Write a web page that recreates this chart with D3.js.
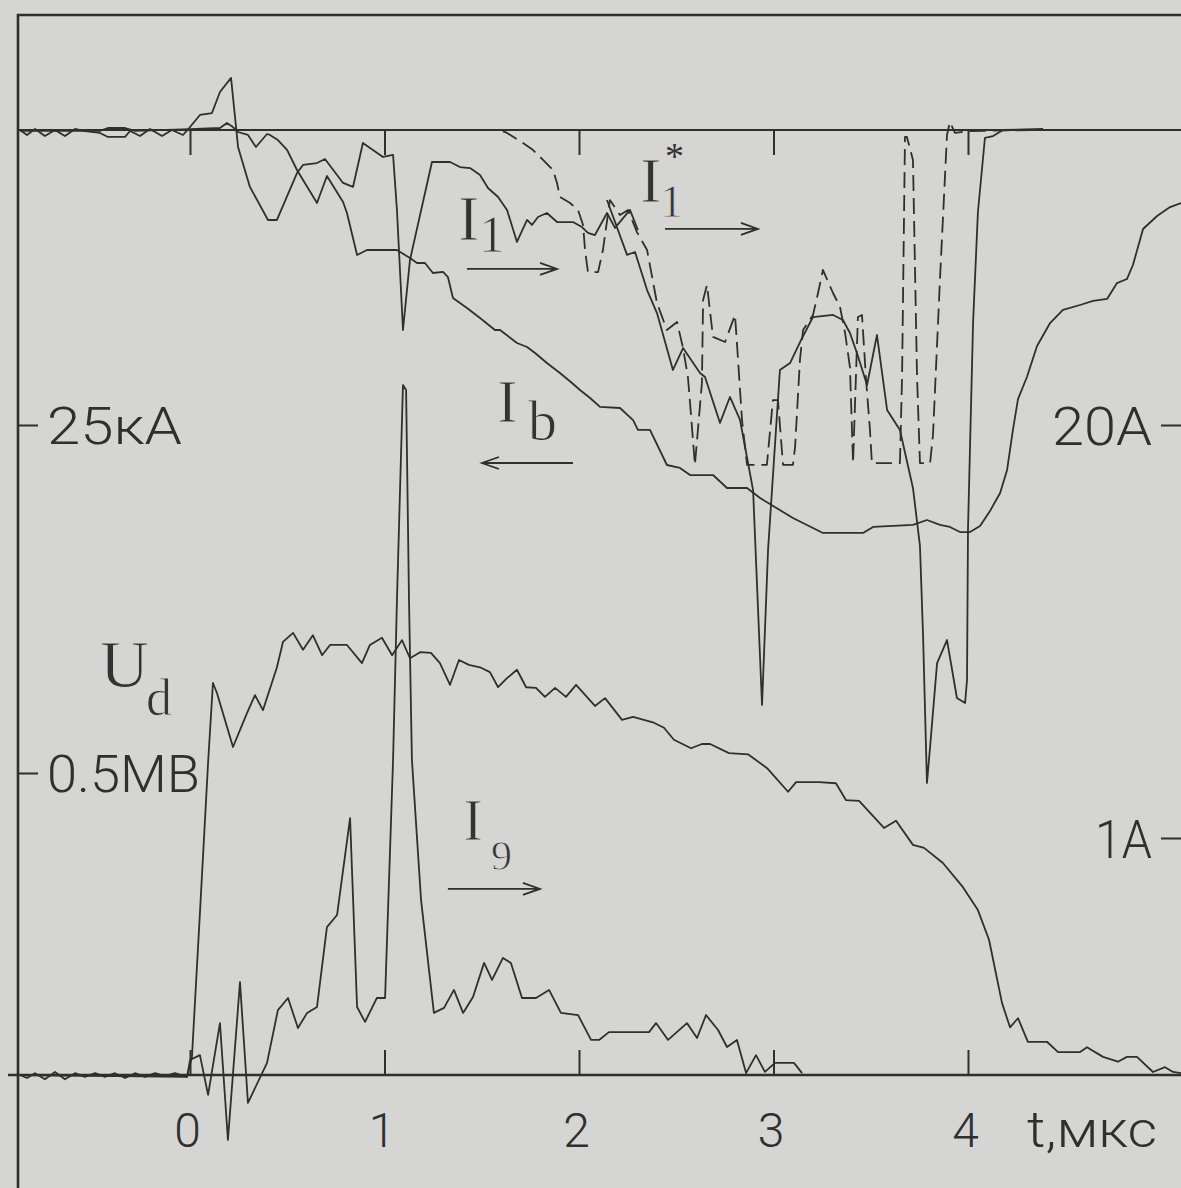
<!DOCTYPE html>
<html><head><meta charset="utf-8">
<script src="https://cdn.jsdelivr.net/npm/d3@7"></script>
<style>html,body{margin:0;padding:0;background:#d5d5d3;}svg{display:block}</style>
</head><body><svg id="c" width="1181" height="1188"></svg>
<script>
// ---------- data (t in мкс) ----------
const timeTicks = [0, 1, 2, 3, 4];
const timeTickLabels = ["0", "1", "2", "3", "4"];
const timeTitle = "t,мкс";
const leftTicksIb = [25], leftTickLabelIb = "25кА";
const leftTicksUd = [0.5], leftTickLabelUd = "0.5МВ";
const rightTicksI1 = [20], rightTickLabelI1 = "20А";
const rightTicksI9 = [1], rightTickLabelI9 = "1А";

// Ib, kA (left upper scale)
const ibCurve = [[-0.874,0.08],[-0.463,0.08],[-0.422,-0.17],[-0.334,-0.17],[-0.283,0.08],[0,-0.08],[0.154,-0.17],[0.190,-0.59],[0.221,-0.25],[0.247,0.17],[0.298,0.42],[0.339,1.44],[0.396,0.34],[0.411,0.42],[0.452,0.85],[0.499,1.69],[0.550,3.39],[0.653,6.19],[0.704,3.90],[0.787,6.10],[0.807,7.03],[0.859,10.59],[0.910,10.17],[1.064,10.17],[1.131,10.85],[1.167,11.27],[1.208,11.27],[1.249,12.12],[1.301,12.03],[1.326,12.46],[1.352,14.24],[1.424,15.08],[1.491,15.93],[1.568,16.95],[1.594,16.95],[1.681,18.05],[1.733,18.39],[1.774,18.90],[1.835,19.75],[1.902,20.59],[1.964,21.44],[2.005,22.03],[2.057,22.71],[2.108,23.47],[2.211,23.56],[2.278,24.58],[2.303,25.42],[2.365,25.42],[2.452,28.39],[2.519,28.64],[2.571,29.24],[2.689,29.24],[2.761,30.34],[2.864,30.34],[2.931,31.19],[3.049,32.37],[3.100,32.88],[3.203,33.73],[3.254,34.15],[3.460,34.15],[3.512,33.64],[3.717,33.47],[3.789,33.05],[3.856,33.47],[3.907,33.64],[3.959,34.07],[4.010,34.07],[4.062,33.56],[4.113,32.29],[4.165,30.76],[4.201,28.81],[4.231,25.42],[4.257,22.80],[4.303,20.93],[4.355,18.31],[4.422,16.36],[4.488,15.25],[4.576,14.83],[4.643,14.49],[4.715,14.32],[4.766,12.97],[4.817,12.63],[4.848,11.44],[4.900,8.39],[4.972,7.29],[5.039,6.53],[5.095,6.19]];

// I1, A (right upper scale); null = break in the trace
const i1Curve = [[-0.874,0],[-0.838,0.34],[-0.797,-0.07],[-0.746,0.41],[-0.694,0],[-0.643,0.41],[-0.591,-0.07],[-0.540,0.07],[-0.463,0.2],[-0.422,0.47],[-0.334,0.47],[-0.308,0.07],[-0.257,0.41],[-0.206,-0.07],[-0.144,0.41],[-0.093,0],[-0.036,0.34],[0,-0.2],[0.051,-1.02],[0.113,-1.15],[0.154,-2.58],[0.211,-3.53],[0.247,1.15],[0.308,3.86],[0.401,6.10],[0.447,6.10],[0.550,2.92],[0.581,2.37],[0.653,2.24],[0.694,1.97],[0.787,3.59],[0.838,3.86],[0.889,0.88],[0.992,1.83],[1.044,1.69],[1.064,5.42],[1.095,13.56],[1.131,8.81],[1.244,2.17],[1.337,2.17],[1.388,2.51],[1.440,2.58],[1.491,3.05],[1.532,3.93],[1.584,4.54],[1.630,5.42],[1.681,7.59],[1.733,6.10],[1.758,6.44],[1.789,5.90],[1.835,5.63],[1.887,6.24],[1.969,6.24],[2.015,6.58],[2.046,6.98],[2.082,7.12],[2.144,5.63],[2.185,6.64],[2.262,5.42],[2.303,6.78],[2.320,null],
 [2.144,4.75],[2.247,8.47],[2.288,8.27],[2.350,10.85],[2.401,12.41],[2.483,16.27],[2.535,14.78],[2.622,16.47],[2.648,16.75],[2.725,19.86],[2.776,18.10],[2.828,19.66],[2.895,24.41],[2.941,38.98],[2.972,28.47],[3.033,16.27],[3.085,15.80],[3.147,14.10],[3.203,12.68],[3.306,12.54],[3.357,12.88],[3.393,13.76],[3.429,15.12],[3.481,17.29],[3.532,13.90],[3.584,18.98],[3.650,20.34],[3.717,24.27],[3.753,28.20],[3.769,34.31],[3.789,44.27],[3.805,41.83],[3.841,36.14],[3.892,34.58],[3.943,38.51],[3.985,38.85],[3.995,37.29],[4.000,27.05],[4.026,13.08],[4.051,5.56],[4.087,0.54],[4.129,0.41],[4.180,0],[4.386,-0.07]];

// I1*, A (right upper scale), dashed
const i1StarCurve = [[-0.874,0],[1.594,0],[1.630,0.20],[1.712,0.88],[1.764,1.36],[1.815,2.03],[1.866,2.71],[1.887,3.59],[1.902,4.54],[1.954,4.95],[1.995,5.42],[2.021,6.44],[2.031,8.14],[2.046,9.63],[2.098,9.63],[2.123,8.14],[2.159,4.75],[2.211,5.76],[2.252,5.42],[2.298,6.92],[2.350,8.14],[2.401,11.73],[2.452,13.56],[2.504,13.02],[2.535,14.78],[2.560,16.75],[2.571,18.51],[2.596,22.71],[2.632,17.15],[2.638,11.53],[2.658,10.51],[2.689,14.03],[2.751,14.37],[2.802,12.54],[2.812,14.44],[2.838,19.66],[2.864,22.71],[2.966,22.71],[2.997,18.31],[3.023,18.31],[3.049,22.71],[3.100,22.71],[3.111,21.49],[3.136,15.59],[3.152,13.56],[3.203,12.54],[3.229,11.05],[3.254,9.49],[3.306,11.05],[3.342,12.00],[3.368,13.76],[3.393,16.07],[3.409,22.58],[3.434,12.68],[3.455,12.54],[3.476,16.95],[3.496,20.34],[3.506,22.58],[3.650,22.58],[3.661,16.75],[3.676,0.47],[3.686,0.47],[3.717,2.03],[3.738,16.75],[3.753,22.58],[3.805,22.58],[3.820,20.68],[3.856,10.10],[3.892,0.34],[3.907,-0.54],[3.933,0.20],[4.000,0.07],[4.370,0]];

// Ud, MV (left lower scale)
const udCurve = [[-0.874,0],[-0.838,-0.005],[-0.797,0.003],[-0.746,-0.007],[-0.694,0.005],[-0.643,-0.007],[-0.591,0.003],[-0.540,-0.003],[-0.488,0.003],[-0.437,-0.003],[-0.386,0.003],[-0.334,-0.005],[-0.283,0.003],[-0.231,-0.003],[-0.180,0.003],[-0.129,-0.002],[-0.077,0.003],[-0.015,-0.003],[0.010,0.030],[0.051,0.268],[0.093,0.517],[0.118,0.649],[0.139,0.632],[0.221,0.543],[0.293,0.599],[0.334,0.629],[0.375,0.604],[0.447,0.675],[0.478,0.717],[0.530,0.732],[0.581,0.704],[0.632,0.728],[0.679,0.695],[0.720,0.712],[0.807,0.712],[0.884,0.682],[0.925,0.712],[0.987,0.724],[1.039,0.695],[1.090,0.720],[1.131,0.690],[1.183,0.700],[1.239,0.699],[1.285,0.682],[1.337,0.646],[1.383,0.687],[1.434,0.679],[1.491,0.675],[1.542,0.667],[1.584,0.642],[1.630,0.657],[1.681,0.671],[1.728,0.642],[1.779,0.641],[1.825,0.626],[1.877,0.641],[1.933,0.626],[1.985,0.646],[2.082,0.611],[2.134,0.624],[2.221,0.588],[2.278,0.593],[2.380,0.584],[2.437,0.575],[2.488,0.555],[2.576,0.541],[2.632,0.548],[2.674,0.548],[2.771,0.533],[2.869,0.531],[2.967,0.508],[3.075,0.469],[3.116,0.485],[3.234,0.485],[3.321,0.483],[3.373,0.455],[3.440,0.454],[3.568,0.409],[3.630,0.421],[3.717,0.381],[3.774,0.376],[3.871,0.351],[3.974,0.311],[4.051,0.273],[4.108,0.224],[4.175,0.119],[4.216,0.079],[4.257,0.094],[4.308,0.055],[4.406,0.055],[4.463,0.038],[4.576,0.038],[4.612,0.046],[4.694,0.030],[4.771,0.022],[4.817,0.030],[4.869,0.030],[4.951,0.005],[5.013,0.013],[5.054,0.005],[5.095,0.003]];

// I9, A (right lower scale)
const i9Curve = [[-0.874,0],[-0.015,-0.008],[0,0.063],[0.051,0.084],[0.093,-0.084],[0.154,0.219],[0.195,-0.274],[0.257,0.392],[0.298,-0.118],[0.396,0.051],[0.452,0.274],[0.504,0.325],[0.555,0.198],[0.602,0.262],[0.653,0.287],[0.704,0.624],[0.756,0.675],[0.823,1.084],[0.859,0.287],[0.900,0.224],[0.961,0.325],[1.003,0.325],[1.044,1.329],[1.064,2.004],[1.095,2.911],[1.111,2.890],[1.126,2.004],[1.141,1.329],[1.188,0.738],[1.254,0.262],[1.306,0.283],[1.357,0.359],[1.404,0.262],[1.455,0.329],[1.512,0.473],[1.553,0.401],[1.609,0.494],[1.650,0.473],[1.707,0.325],[1.779,0.325],[1.846,0.359],[1.907,0.262],[1.995,0.253],[2.062,0.148],[2.103,0.148],[2.154,0.181],[2.360,0.181],[2.396,0.219],[2.458,0.148],[2.555,0.219],[2.607,0.156],[2.653,0.253],[2.715,0.190],[2.761,0.118],[2.812,0.148],[2.859,0.008],[2.910,0.084],[2.956,0.013],[3.008,0.051],[3.105,0.051],[3.147,0.008]];

// ---------- layout ----------
const W = 1181, H = 1188;
const frameLeft = 18, frameTop = 15;
const ink = "#2f2f2f";
const paper = "#d5d5d3";
const svg = d3.select("#c");
svg.append("rect").attr("width", W).attr("height", H).attr("fill", paper);

const x = d3.scaleLinear().domain([0, 4]).range([190, 968]);
const yIb = d3.scaleLinear().domain([0, 25]).range([130, 425]);
const yI1 = d3.scaleLinear().domain([0, 20]).range([130, 425]);
const yUd = d3.scaleLinear().domain([0, 0.5]).range([1075, 773]);
const yI9 = d3.scaleLinear().domain([0, 1]).range([1075, 838]);

const axisFont = "Roboto, 'Open Sans', sans-serif";
const serif = "'Liberation Serif', 'DejaVu Serif', serif";

// frame
svg.append("path").attr("d", `M${frameLeft},${H} L${frameLeft},${frameTop} L${W},${frameTop}`)
  .attr("fill", "none").attr("stroke", ink).attr("stroke-width", 2.6);

// zero lines
svg.append("line").attr("x1", frameLeft).attr("x2", W).attr("y1", yIb(0)).attr("y2", yIb(0))
  .attr("stroke", ink).attr("stroke-width", 2.2);
svg.append("line").attr("x1", 8).attr("x2", W).attr("y1", yUd(0)).attr("y2", yUd(0))
  .attr("stroke", ink).attr("stroke-width", 2.4);

function styleAxis(g) {
  g.select(".domain").remove();
  g.selectAll(".tick line").attr("stroke", ink).attr("stroke-width", 2);
  g.selectAll("text").attr("fill", ink).attr("font-family", axisFont).attr("font-weight", 300);
}

// top time ticks (pointing down)
svg.append("g").attr("transform", `translate(0,${yIb(0)})`)
  .call(d3.axisBottom(x).tickValues(timeTicks).tickSize(25).tickFormat(""))
  .call(styleAxis);
// bottom time ticks (pointing up)
svg.append("g").attr("transform", `translate(0,${yUd(0)})`)
  .call(d3.axisTop(x).tickValues(timeTicks).tickSize(25).tickFormat(""))
  .call(styleAxis);
// bottom time labels
svg.append("g").attr("transform", `translate(0,${yUd(0)})`)
  .call(d3.axisBottom(x).tickValues(timeTicks).tickSize(0).tickPadding(38)
    .tickFormat((d, i) => timeTickLabels[i]))
  .call(styleAxis)
  .selectAll("text").attr("font-size", 48).attr("dx", -3);
svg.append("text").text(timeTitle).attr("x", 1027).attr("y", 1147)
  .attr("font-family", axisFont).attr("font-weight", 300).attr("font-size", 50)
  .attr("fill", ink).attr("textLength", 130).attr("lengthAdjust", "spacingAndGlyphs");

// left axes
function leftAxis(scale, vals, label, width) {
  const g = svg.append("g").attr("transform", `translate(${frameLeft},0)`)
    .call(d3.axisRight(scale).tickValues(vals).tickSize(20).tickPadding(9).tickFormat(() => label))
    .call(styleAxis);
  g.selectAll("text").attr("font-size", 52).attr("dy", "0.36em")
    .attr("textLength", width).attr("lengthAdjust", "spacingAndGlyphs");
}
leftAxis(yIb, leftTicksIb, leftTickLabelIb, 135);
leftAxis(yUd, leftTicksUd, leftTickLabelUd, 153);

function rightAxis(scale, vals, label, width) {
  const g = svg.append("g").attr("transform", `translate(${W},0)`)
    .call(d3.axisLeft(scale).tickValues(vals).tickSize(20).tickPadding(9).tickFormat(() => label))
    .call(styleAxis);
  g.selectAll("text").attr("font-size", 54).attr("dy", "0.36em")
    .attr("textLength", width).attr("lengthAdjust", "spacingAndGlyphs");
}
rightAxis(yI1, rightTicksI1, rightTickLabelI1, 100);
rightAxis(yI9, rightTicksI9, rightTickLabelI9, 57);

// curves
const mk = ys => d3.line().defined(d => d[1] !== null).x(d => x(d[0])).y(d => ys(d[1]));
const curves = svg.append("g").attr("fill", "none").attr("stroke", ink)
  .attr("stroke-width", 1.8).attr("stroke-linejoin", "round");
curves.append("path").attr("d", mk(yIb)(ibCurve));
curves.append("path").attr("d", mk(yI1)(i1Curve));
curves.append("path").attr("d", mk(yI1)(i1StarCurve)).attr("stroke-dasharray", "16,7");
curves.append("path").attr("d", mk(yUd)(udCurve));
curves.append("path").attr("d", mk(yI9)(i9Curve));

// curve labels: one text element per label, subscript as tspan
function label(px, py, main, mainSize, sub, subSize, dx, dy, sup) {
  const t = svg.append("text").attr("x", px).attr("y", py)
    .attr("fill", "#333").attr("font-family", serif).attr("font-size", mainSize)
    .attr("stroke", paper).attr("stroke-width", 0.9);
  t.append("tspan").text(main);
  t.append("tspan").attr("x", px + dx).attr("y", py + dy).attr("font-size", subSize).text(sub);
  if (sup) {
    t.append("tspan").attr("x", px + sup.dx).attr("y", py + sup.dy).attr("font-size", sup.size)
      .attr("stroke", "none").text(sup.text);
  }
}
label(x(1.378), yI1(7.46), "I", 64, "1", 52, 21, 12);
label(x(2.314), yI1(4.88), "I", 64, "1", 46, 20, 15, { text: "*", dx: 25, dy: -33, size: 38 });
label(x(1.578), yIb(24.75), "I", 62, "b", 58, 31, 18);
label(x(-0.463), yUd(0.642), "U", 68, "d", 52, 46, 28);
label(x(1.404), yI9(0.992), "I", 60, "9", 42, 28, 30);

// arrows
function arrow(x1, x2, y) {
  const dir = x2 > x1 ? 1 : -1;
  svg.append("path")
    .attr("d", `M${x1},${y} L${x2},${y} M${x2 - dir * 17},${y - 6} L${x2},${y} L${x2 - dir * 17},${y + 6}`)
    .attr("fill", "none").attr("stroke", ink).attr("stroke-width", 1.8);
}
arrow(x(1.424), x(1.887), yI1(9.42));
arrow(x(2.442), x(2.920), yI1(6.71));
arrow(x(1.969), x(1.501), yIb(28.22));
arrow(x(1.326), x(1.799), yI9(0.785));
</script>
</body></html>
